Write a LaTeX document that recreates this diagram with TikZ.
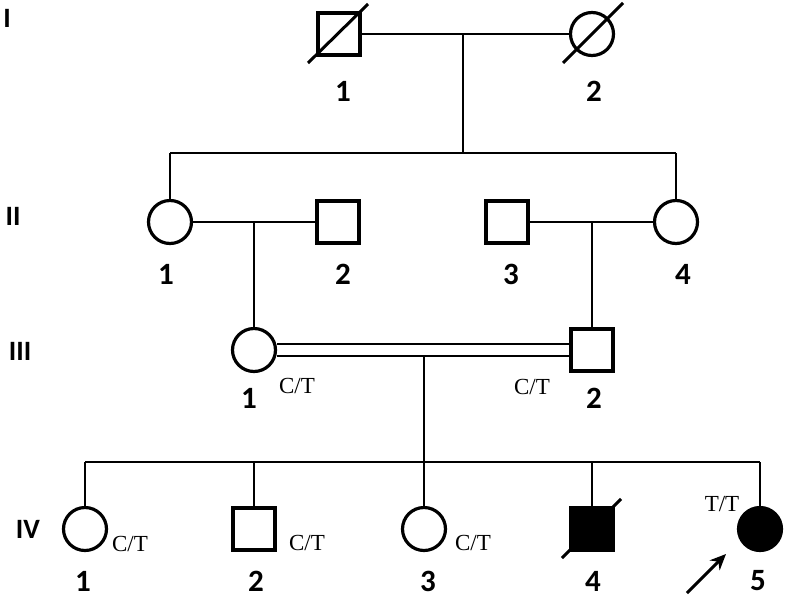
\documentclass[tikz,border=0pt]{standalone}
\usepackage{fontspec}
\setmainfont{Carlito}
\newfontfamily\ctfont{Liberation Serif}
\usetikzlibrary{arrows.meta}
\begin{document}
\begin{tikzpicture}[x=1pt,y=-1pt,
  male/.style={draw,line width=3.8pt,rectangle,minimum size=42pt,inner sep=0pt},
  female/.style={draw,line width=3.2pt,circle,minimum size=43pt,inner sep=0pt},
  affected/.style={fill=black},
  link/.style={line width=2.4pt},
  deceased/.style={line width=3pt},
  num/.style={font=\fontsize{31}{31}\selectfont\bfseries,inner sep=0pt},
  gen/.style={font=\fontsize{28}{28}\selectfont\bfseries,inner sep=0pt},
  geno/.style={font=\ctfont\fontsize{23}{23}\selectfont,inner sep=0pt}]
\useasboundingbox[fill=white] (0,0) rectangle (786,600);

% generation labels
\node[gen] (gI) at (7,18) {I};
\node[gen] (gII) at (13,216) {II};
\node[gen] (gIII) at (20,351) {III};
\node[gen] (gIV) at (28,529) {IV};

% individuals
\node[male] (I1) at (339,34) {};
\node[female] (I2) at (592,34) {};
\node[female] (II1) at (170,222) {};
\node[male] (II2) at (338,222) {};
\node[male] (II3) at (507,222) {};
\node[female] (II4) at (676,222) {};
\node[female] (III1) at (254,350) {};
\node[male] (III2) at (592,350) {};
\node[female] (IV1) at (85,529) {};
\node[male] (IV2) at (254,529) {};
\node[female] (IV3) at (424,529) {};
\node[male,affected] (IV4) at (592,529) {};
\node[female,affected] (IV5) at (760,529) {};

% helper coordinates
\coordinate (mI) at (463,34);
\coordinate (sIIl) at (170,153);
\coordinate (sIIr) at (676,153);
\coordinate (sIIm) at (463,153);
\coordinate (mII12) at (254,222);
\coordinate (mII34) at (592,222);
\coordinate (mIII) at (424,356);
\coordinate (sIVl) at (85,462);
\coordinate (sIVr) at (760,462);
\coordinate (dI1a) at (308,63);
\coordinate (dI1b) at (368,4);
\coordinate (dI2a) at (563,63);
\coordinate (dI2b) at (623,3);
\coordinate (dIV4a) at (562,558);
\coordinate (dIV4b) at (621,499);
\coordinate (arA) at (687,593);
\coordinate (arB) at (726,554);

% generation I
\draw[link] (I1.east) -- (I2.west);
\draw[link] (mI) -- (sIIm);
\draw[link] (sIIl) -- (sIIr);
\draw[link] (sIIl) -- (II1.north);
\draw[link] (sIIr) -- (II4.north);

% generation II
\draw[link] (II1.east) -- (II2.west);
\draw[link] (II3.east) -- (II4.west);
\draw[link] (mII12) -- (III1.north);
\draw[link] (mII34) -- (III2.north);

% generation III consanguineous
\draw[link] ([yshift=6pt]III1.east) -- ([yshift=6pt]III2.west);
\draw[link] ([yshift=-6pt]III1.east) -- ([yshift=-6pt]III2.west);
\draw[link] (mIII) -- (IV3.north);

% generation IV
\draw[link] (sIVl) -- (sIVr);
\draw[link] (sIVl) -- (IV1.north);
\draw[link] (IV2.north |- sIVl) -- (IV2.north);
\draw[link] (IV4.north |- sIVl) -- (IV4.north);
\draw[link] (sIVr) -- (IV5.north);

% deceased marks
\draw[deceased] (dI1a) -- (dI1b);
\draw[deceased] (dI2a) -- (dI2b);
\draw[deceased] (dIV4a) -- (dIV4b);

% proband arrow
\draw[line width=3pt,-{Stealth[length=16pt,width=14pt]}] (arA) -- (arB);

% numbers
\node[num] (nI1) at (343,91) {1};
\node[num] (nI2) at (594,91) {2};
\node[num] (nII1) at (166,274) {1};
\node[num] (nII2) at (343,274) {2};
\node[num] (nII3) at (511,274) {3};
\node[num] (nII4) at (683,274) {4};
\node[num] (nIII1) at (249,398) {1};
\node[num] (nIII2) at (594,398) {2};
\node[num] (nIV1) at (83,581) {1};
\node[num] (nIV2) at (256,581) {2};
\node[num] (nIV3) at (428,581) {3};
\node[num] (nIV4) at (593,581) {4};
\node[num] (nIV5) at (758,581) {5};

% genotypes
\node[geno] (gtIII1) at (297,386) {C/T};
\node[geno] (gtIII2) at (532,387) {C/T};
\node[geno] (gtIV1) at (130,544) {C/T};
\node[geno] (gtIV2) at (307,543) {C/T};
\node[geno] (gtIV3) at (473,543) {C/T};
\node[geno] (gtIV5) at (722,504) {T/T};
\end{tikzpicture}
\end{document}
